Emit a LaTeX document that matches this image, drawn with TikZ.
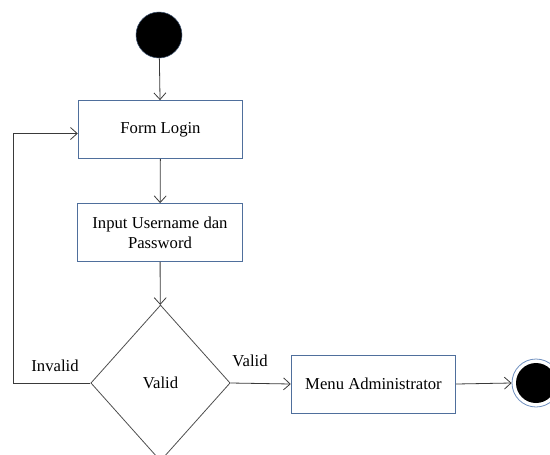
\documentclass[tikz,border=0pt]{standalone}
\usepackage{fontspec}
\setmainfont{Liberation Serif}
\usepackage{xcolor}
\usepackage{tikz}
\usetikzlibrary{positioning,calc,shapes.geometric,arrows.meta}
\definecolor{actline}{HTML}{4F6F9C}
\definecolor{flowdark}{HTML}{3A3A3A}
\definecolor{ringblue}{HTML}{6E8FBF}

\begin{document}
\begin{tikzpicture}[
  x=0.75pt, y=-0.75pt,
  actbox/.style={draw=actline, line width=0.6pt, fill=white, minimum width=123.5pt,
                 minimum height=43.5pt, align=center, inner sep=2pt,
                 font=\fontsize{12.5}{15}\selectfont},
  decbox/.style={diamond, draw=flowdark!90, line width=0.6pt, minimum width=104.5pt,
                 minimum height=117pt, inner sep=0pt, font=\fontsize{12.5}{15}\selectfont},
  flow/.style={draw=flowdark, line width=0.6pt, -{Straight Barb[length=5pt,width=9pt]}},
  lbl/.style={font=\fontsize{12.5}{15}\selectfont},
]
\useasboundingbox (0,0) rectangle (550,454);

% --- start / end markers
\node[circle, fill=black, draw=ringblue!60!black, line width=0.4pt,
      minimum size=34.5pt, inner sep=0pt] (start) at (159,35) {};
\node[circle, draw=ringblue, line width=0.6pt, fill=white,
      minimum size=36pt, inner sep=0pt] (endring) at (536,383) {};
\node[circle, fill=black, minimum size=30pt, inner sep=0pt] (enddot) at (536,383) {};

% --- activities
\node[actbox] (form)  at (160.5,129.5) {Form Login};
\node[actbox] (input) at (160,232.5)   {Input Username dan\\Password};
\node[decbox] (dec)   at (160.5,383)   {Valid};
\node[actbox] (menu)  at (373.5,384)   {Menu Administrator};

% --- flows
\draw[flow] (start) -- (form);
\draw[flow] (form) -- (input);
\draw[flow] (input) -- (dec);
\draw[flow] (dec.east) -- (menu.west);
\draw[flow] (menu.east) -- (endring.west);

% invalid goes back round the left side
\coordinate (back) at (13,383);
\draw[flow] (dec.west) -- (back) |- ([yshift=-3pt]form.west);

\node[lbl] (lblinvalid) at (55,366) {Invalid};
\node[lbl] (lblvalid)   at (250,361) {Valid};
\end{tikzpicture}
\end{document}
